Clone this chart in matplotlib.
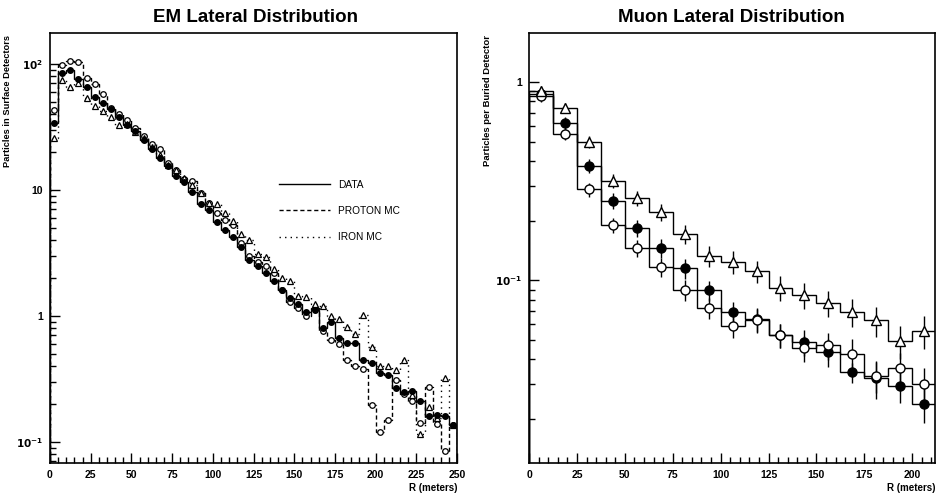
import numpy as np
import matplotlib
matplotlib.use("Agg")
import matplotlib.pyplot as plt
from matplotlib.ticker import LogLocator, MultipleLocator, NullFormatter

plt.rcParams['font.family'] = ['Liberation Sans', 'DejaVu Sans']

# EM lateral distribution, 5 m bins from 0 to 250 m
em_edges = np.arange(0, 255, 5)
em_r = em_edges[:-1] + 2.5
em_data = [34, 84, 90, 76, 66, 55, 49, 44, 38, 33,
           29.5, 25, 21, 18, 15.5, 13, 11.5, 9.6, 7.7, 6.9,
           5.6, 4.8, 4.2, 3.5, 2.8, 2.5, 2.2, 1.9, 1.6, 1.4,
           1.25, 1.07, 1.12, 0.8, 0.9, 0.67, 0.61, 0.61, 0.45, 0.42,
           0.35, 0.34, 0.27, 0.25, 0.255, 0.21, 0.16, 0.165, 0.16, 0.135]
em_proton = [43, 98, 106, 104, 78, 69, 58, 45, 40, 36,
             31, 27, 23, 21, 16.5, 14.5, 12.2, 11.7, 9.4, 7.9,
             6.5, 5.8, 5.3, 3.8, 3.0, 2.7, 2.5, 2.2, 1.6, 1.3,
             1.15, 1.0, 1.15, 0.76, 0.64, 0.6, 0.45, 0.40, 0.38, 0.197,
             0.12, 0.15, 0.31, 0.24, 0.21, 0.142, 0.275, 0.14, 0.085, 0.136]
em_iron = [26, 74, 66, 70, 53.5, 46, 42, 38, 33, 33.4,
           29, 26, 22, 19, 15.8, 14.5, 12.5, 11, 9.5, 7.9,
           7.8, 6.5, 5.7, 4.45, 4.0, 3.1, 2.95, 2.36, 2.0, 1.9,
           1.45, 1.42, 1.25, 1.19, 0.99, 0.95, 0.82, 0.72, 1.02, 0.57,
           0.40, 0.40, 0.37, 0.45, 0.236, 0.116, 0.19, 0.154, 0.32, 0.136]

# Muon lateral distribution, 12.5 m bins
mu_edges = np.arange(0, 215, 12.5)
mu_r = mu_edges[:-1] + 6.25
mu_filled = [0.87, 0.62, 0.378, 0.252, 0.183, 0.145, 0.115, 0.089, 0.069,
             0.064, 0.053, 0.049, 0.0435, 0.0344, 0.0323, 0.0293, 0.0238]
mu_open = [0.85, 0.55, 0.288, 0.19, 0.146, 0.117, 0.090, 0.073, 0.059,
           0.063, 0.053, 0.0454, 0.047, 0.0427, 0.0329, 0.036, 0.030]
mu_tri = [0.90, 0.74, 0.50, 0.318, 0.26, 0.221, 0.171, 0.133, 0.124,
          0.111, 0.092, 0.084, 0.0766, 0.0695, 0.0628, 0.0494, 0.0555]
# relative errors
mu_filled_err = [0.07, 0.07, 0.08, 0.09, 0.10, 0.11, 0.12, 0.12, 0.13,
                 0.14, 0.14, 0.15, 0.16, 0.12, 0.22, 0.18, 0.20]
mu_open_err = [0.07, 0.07, 0.08, 0.09, 0.10, 0.11, 0.12, 0.12, 0.13,
               0.14, 0.14, 0.15, 0.16, 0.18, 0.18, 0.20, 0.20]
mu_tri_err = [0.06, 0.06, 0.07, 0.08, 0.09, 0.10, 0.11, 0.12, 0.13,
              0.13, 0.14, 0.15, 0.15, 0.16, 0.17, 0.19, 0.19]


def style(ax, xmax, ylo, yhi):
    ax.set_yscale('log')
    ax.set_xlim(0, xmax)
    ax.set_ylim(ylo, yhi)
    ax.xaxis.set_major_locator(MultipleLocator(25))
    ax.xaxis.set_minor_locator(MultipleLocator(5))
    ax.yaxis.set_minor_locator(LogLocator(base=10, subs=np.arange(2, 10)))
    ax.yaxis.set_minor_formatter(NullFormatter())
    ax.tick_params(which='both', direction='in', top=False, right=False,
                   labelsize=7.5, width=1)
    ax.tick_params(which='major', length=7, pad=5)
    ax.tick_params(which='minor', length=4)
    for sp in ax.spines.values():
        sp.set_linewidth(1.2)


fig = plt.figure(figsize=(9.38, 4.96), dpi=100)
ax1 = fig.add_axes([0.0533, 0.0665, 0.434, 0.867])
ax2 = fig.add_axes([0.564, 0.0665, 0.433, 0.867])

# ---- left panel
ax1.stairs(em_data, em_edges, color='k', lw=1, ls='-', label='DATA')
ax1.stairs(em_proton, em_edges, color='k', lw=1, ls=(0, (3, 2)), label='PROTON MC')
ax1.stairs(em_iron, em_edges, color='k', lw=1, ls=(0, (1, 3)), label='IRON MC')
ax1.plot(em_r, em_data, 'o', color='k', ms=4, zorder=4)
ax1.plot(em_r, em_proton, 'o', mfc='white', mec='k', mew=0.9, ms=4, zorder=3)
ax1.plot(em_r, em_iron, '^', mfc='white', mec='k', mew=0.9, ms=4, zorder=3)
style(ax1, 250, 0.068, 176)
ax1.set_yticks([0.1, 1, 10, 100])
ax1.set_yticklabels([r'$\mathbf{10^{-1}}$', '1', '10', r'$\mathbf{10^{2}}$'],
                    fontweight='bold')
ax1.set_xticks([0, 25, 50, 75, 100, 125, 150, 175, 200, 225, 250])
ax1.set_xticklabels(['0', '25', '50', '75', '100', '125', '150', '175', '200', '225', '250'],
                    fontweight='bold')
ax1.set_xlabel('R (meters)', loc='right', fontsize=7, fontweight='bold', labelpad=2)
ax1.set_ylabel('Particles in Surface Detectors', loc='top', fontsize=6.7,
               fontweight='bold')
ax1.yaxis.set_label_coords(-0.093, 0.995)
ax1.legend(loc='upper left', bbox_to_anchor=(0.54, 0.68), frameon=False,
           fontsize=7.3, handlelength=5, handletextpad=0.8, labelspacing=1.6)

# ---- right panel
for vals, err in [(mu_filled, mu_filled_err), (mu_open, mu_open_err), (mu_tri, mu_tri_err)]:
    vals = np.array(vals)
    ax2.stairs(vals, mu_edges, color='k', lw=1)
    ax2.errorbar(mu_r, vals, yerr=vals * np.array(err), fmt='none', ecolor='k',
                 elinewidth=1, capsize=0, zorder=3)
ax2.plot(mu_r, mu_filled, 'o', color='k', ms=6.5, zorder=5)
ax2.plot(mu_r, mu_open, 'o', mfc='white', mec='k', mew=1, ms=6.5, zorder=5)
ax2.plot(mu_r, mu_tri, '^', mfc='white', mec='k', mew=1, ms=6.5, zorder=5)
style(ax2, 212, 0.012, 1.77)
ax2.set_yticks([0.1, 1])
ax2.set_yticklabels([r'$\mathbf{10^{-1}}$', '1'], fontweight='bold')
ax2.set_xticks([0, 25, 50, 75, 100, 125, 150, 175, 200])
ax2.set_xticklabels(['0', '25', '50', '75', '100', '125', '150', '175', '200'],
                    fontweight='bold')
ax2.set_xlabel('R (meters)', loc='right', fontsize=7, fontweight='bold', labelpad=2)
ax2.set_ylabel('Particles per Buried Detector', loc='top', fontsize=6.8,
               fontweight='bold')
ax2.yaxis.set_label_coords(-0.091, 0.995)

fig.text(0.272, 1 - 17 / 496, 'EM Lateral Distribution', ha='center', va='center',
         fontsize=13.5, fontweight='bold')
fig.text(0.780, 1 - 17 / 496, 'Muon Lateral Distribution', ha='center', va='center',
         fontsize=13.5, fontweight='bold')

fig.savefig('out.png', dpi=100)
